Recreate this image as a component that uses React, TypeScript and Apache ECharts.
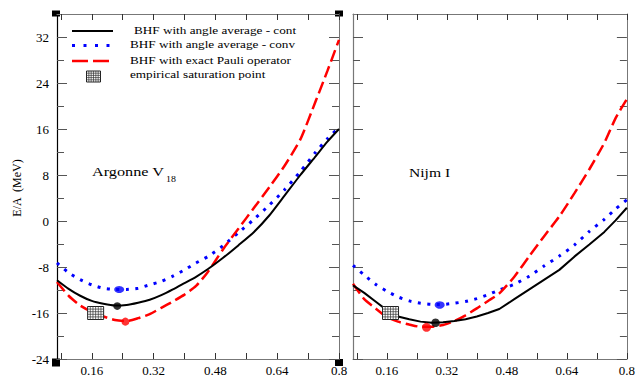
import React, { useEffect, useRef } from "react";
import * as echarts from "echarts";

// ---------- data ----------
const density = [0.07, 0.1, 0.13, 0.16, 0.19, 0.22, 0.25, 0.28, 0.31, 0.34, 0.37, 0.4, 0.43, 0.46, 0.5, 0.54, 0.58, 0.62, 0.66, 0.7, 0.74, 0.77, 0.8];

const argonneCont = [-10.3, -11.8, -13.0, -13.9, -14.4, -14.7, -14.6, -14.2, -13.7, -12.9, -11.9, -10.8, -9.7, -8.4, -6.4, -4.2, -1.9, 1.0, 4.5, 8.0, 11.3, 13.8, 16.0];
const argonneConv = [-7.3, -9.0, -10.2, -11.1, -11.7, -11.9, -11.9, -11.7, -11.1, -10.5, -9.6, -8.5, -7.3, -6.2, -4.3, -2.0, 0.3, 2.8, 5.5, 8.6, 12.0, 14.3, 16.3];
const argonnePauli = [-10.6, -13.0, -14.7, -15.8, -16.6, -17.2, -17.4, -16.9, -16.2, -15.1, -14.0, -12.8, -11.3, -8.9, -4.9, -1.3, 2.3, 5.9, 9.7, 14.2, 20.9, 26.1, 31.5];

const nijmCont = [-11.2, -12.5, -14.0, -15.5, -16.6, -17.1, -17.5, -17.7, -17.6, -17.4, -17.1, -16.6, -16.0, -15.3, -13.6, -11.9, -10.2, -8.5, -6.2, -4.1, -1.9, 0.1, 2.3];
const nijmConv = [-7.7, -9.4, -11.0, -12.2, -13.2, -13.9, -14.3, -14.5, -14.5, -14.3, -14.0, -13.5, -12.8, -12.0, -11.0, -9.6, -7.8, -6.1, -4.2, -1.8, 0.3, 2.1, 3.7];
const nijmPauli = [-10.9, -13.6, -15.2, -16.7, -17.5, -18.0, -18.4, -18.4, -18.1, -17.4, -16.4, -15.2, -13.9, -12.6, -9.7, -6.1, -2.6, 0.8, 4.8, 9.0, 13.6, 17.9, 21.2];

// saturation points of each calculation [density, E/A]
const argonneSatCont = [0.226, -14.8];
const argonneSatConv = [0.231, -11.9];
const argonneSatPauli = [0.247, -17.5];
const nijmSatCont = [0.29, -17.7];
const nijmSatConv = [0.301, -14.6];
const nijmSatPauli = [0.266, -18.5];
const empiricalPoint = [0.17, -16.0];

const xTickValues = [0.08, 0.16, 0.24, 0.32, 0.4, 0.48, 0.56, 0.64, 0.72, 0.8];
const xLabelValues = [0.16, 0.32, 0.48, 0.64, 0.8];
const yMajorValues = [-24, -16, -8, 0, 8, 16, 24, 32];
const yMinorValues = [-20, -12, -4, 4, 12, 20, 28];

const legendNames = [
  "BHF with angle average - cont",
  "BHF with angle average - conv",
  "BHF with exact Pauli operator",
  "empirical saturation point",
];
const panelNames = ["Argonne V", "Nijm I"];
const yAxisTitle = "E/A  (MeV)";

// ---------- styling ----------
const FONT = "serif";
const X_MIN = 0.07;
const X_MAX = 0.8;
const Y_MIN = -24;
const Y_MAX = 36;
const dotStyle = { color: "#0000ff", width: 3, type: [3, 6.5] as number[], cap: "butt" };
const dashStyle = { color: "#ff0000", width: 2.5, type: [12, 5] as number[], cap: "butt" };
const solidStyle = { color: "#000000", width: 2 };

function gridBoxChildren(cx: number, cy: number, w: number, h: number) {
  const x0 = cx - w / 2;
  const y0 = cy - h / 2;
  const children: any[] = [
    { type: "rect", shape: { x: x0, y: y0, width: w, height: h }, style: { fill: "#fff", stroke: "#222", lineWidth: 1 } },
  ];
  for (let i = 1; i < 6; i++) {
    const x = x0 + (w * i) / 6;
    children.push({ type: "line", shape: { x1: x, y1: y0, x2: x, y2: y0 + h }, style: { stroke: "#333", lineWidth: 0.7 } });
  }
  for (let j = 1; j < 5; j++) {
    const y = y0 + (h * j) / 5;
    children.push({ type: "line", shape: { x1: x0, y1: y, x2: x0 + w, y2: y }, style: { stroke: "#333", lineWidth: 0.7 } });
  }
  return children;
}

function makeXAxes(g: number) {
  const base = {
    type: "value",
    gridIndex: g,
    min: X_MIN,
    max: X_MAX,
    splitLine: { show: false },
    axisLine: { show: true, onZero: false, lineStyle: { color: "#777", width: 1 } },
    axisTick: { show: true, inside: true, length: 6, customValues: xTickValues, lineStyle: { color: "#333" } },
  };
  return [
    {
      ...base,
      position: "bottom",
      axisLabel: {
        show: true,
        customValues: xLabelValues,
        margin: 5,
        fontFamily: FONT,
        fontSize: 13,
        color: "#000",
        formatter: (v: number) => String(v),
      },
    },
    { ...base, position: "top", axisLabel: { show: false } },
  ];
}

function makeYAxes(g: number, showLabels: boolean, leftColor: string) {
  const base = {
    type: "value",
    gridIndex: g,
    min: Y_MIN,
    max: Y_MAX,
    splitLine: { show: false },
  };
  return [
    {
      ...base,
      position: "left",
      axisLine: { show: true, onZero: false, lineStyle: { color: leftColor, width: 1.2 } },
      axisTick: { show: true, inside: true, length: 10, customValues: yMajorValues, lineStyle: { color: "#555" } },
      axisLabel: {
        show: showLabels,
        customValues: yMajorValues,
        margin: 8,
        fontFamily: FONT,
        fontSize: 13,
        color: "#000",
      },
    },
    {
      ...base,
      position: "left",
      axisLine: { show: false, onZero: false },
      axisTick: { show: true, inside: true, length: 7, customValues: yMinorValues, lineStyle: { color: "#555" } },
      axisLabel: { show: false },
    },
    {
      ...base,
      position: "right",
      axisLine: { show: true, onZero: false, lineStyle: { color: "#777", width: 1 } },
      axisTick: { show: true, inside: true, length: 10, customValues: yMajorValues, lineStyle: { color: "#555" } },
      axisLabel: { show: false },
    },
    {
      ...base,
      position: "right",
      axisLine: { show: false, onZero: false },
      axisTick: { show: true, inside: true, length: 7, customValues: yMinorValues, lineStyle: { color: "#555" } },
      axisLabel: { show: false },
    },
  ];
}

function lineSeries(name: string, values: number[], g: number, lineStyle: any, z: number) {
  return {
    name,
    type: "line",
    xAxisIndex: g * 2,
    yAxisIndex: g * 4,
    data: density.map((d, i) => [d, values[i]]),
    symbol: "none",
    smooth: 0.2,
    lineStyle,
    z,
  };
}

function dotSeries(point: number[], g: number, color: string, size: number[]) {
  return {
    type: "scatter",
    xAxisIndex: g * 2,
    yAxisIndex: g * 4,
    data: [point],
    symbol: "circle",
    symbolSize: size,
    itemStyle: { color },
    z: 5,
  };
}

function empiricalSeries(g: number) {
  return {
    name: legendNames[3],
    type: "custom",
    xAxisIndex: g * 2,
    yAxisIndex: g * 4,
    data: [empiricalPoint],
    z: 6,
    renderItem: (_params: any, api: any) => {
      const p = api.coord([api.value(0), api.value(1)]);
      return { type: "group", children: gridBoxChildren(p[0], p[1], 16, 13) };
    },
  };
}

export default function App() {
  const ref = useRef<HTMLDivElement>(null);

  useEffect(() => {
    if (!ref.current) return;
    const chart = echarts.init(ref.current, null, { renderer: "svg" });

    const legendText = (text: string, x: number, y: number) => ({
      type: "text",
      x,
      y,
      scaleX: 1.2,
      style: { text, fontFamily: FONT, fontSize: 11, fill: "#000", align: "left", verticalAlign: "middle" },
    });

    const graphic: any[] = [
      // legend
      { type: "line", shape: { x1: 72, y1: 31, x2: 113, y2: 31 }, style: { stroke: "#000", lineWidth: 2 } },
      legendText(legendNames[0], 134, 30),
      { type: "line", shape: { x1: 72, y1: 45.5, x2: 113, y2: 45.5 }, style: { stroke: "#0000ff", lineWidth: 3, lineDash: [3, 8.5] } },
      legendText(legendNames[1], 130, 44.5),
      { type: "line", shape: { x1: 72, y1: 61, x2: 113, y2: 61 }, style: { stroke: "#ff0000", lineWidth: 2.5, lineDash: [16, 5] } },
      legendText(legendNames[2], 130, 60),
      { type: "group", children: gridBoxChildren(93.5, 76.5, 14, 11) },
      legendText(legendNames[3], 130, 74.5),
      // panel labels
      { type: "text", x: 92, y: 172, scaleX: 1.25, style: { text: panelNames[0], fontFamily: FONT, fontSize: 13, fill: "#000", align: "left", verticalAlign: "middle" } },
      { type: "text", x: 166, y: 179, scaleX: 1.1, style: { text: "18", fontFamily: FONT, fontSize: 9, fill: "#000", align: "left", verticalAlign: "middle" } },
      { type: "text", x: 409, y: 172.5, scaleX: 1.2, style: { text: panelNames[1], fontFamily: FONT, fontSize: 13, fill: "#000", align: "left", verticalAlign: "middle" } },
      // y-axis title
      { type: "text", x: 17, y: 188, rotation: Math.PI / 2, style: { text: yAxisTitle, fontFamily: FONT, fontSize: 12, fill: "#000", align: "center", verticalAlign: "middle" } },
      // corner markers of the left frame
      { type: "rect", shape: { x: 52, y: 10.5, width: 8, height: 6 }, style: { fill: "#000" } },
      { type: "rect", shape: { x: 52, y: 358.5, width: 8, height: 8 }, style: { fill: "#000" } },
      { type: "rect", shape: { x: 335, y: 10.5, width: 8, height: 6 }, style: { fill: "#000" } },
      { type: "rect", shape: { x: 335, y: 359, width: 8, height: 7 }, style: { fill: "#000" } },
    ];

    const option: any = {
      animation: false,
      backgroundColor: "#fff",
      textStyle: { fontFamily: FONT },
      grid: [
        { left: 57, top: 14, width: 282, height: 349 },
        { left: 353, top: 14, width: 282, height: 349 },
      ],
      xAxis: [...makeXAxes(0), ...makeXAxes(1)],
      yAxis: [...makeYAxes(0, true, "#000"), ...makeYAxes(1, false, "#777")],
      series: [
        lineSeries(legendNames[1], argonneConv, 0, dotStyle, 2),
        lineSeries(legendNames[2], argonnePauli, 0, dashStyle, 3),
        lineSeries(legendNames[0], argonneCont, 0, solidStyle, 4),
        lineSeries(legendNames[1], nijmConv, 1, dotStyle, 2),
        lineSeries(legendNames[2], nijmPauli, 1, dashStyle, 3),
        { ...lineSeries(legendNames[0], nijmCont, 1, solidStyle, 4), smooth: false },
        dotSeries(argonneSatConv, 0, "#0000ff", [10, 7]),
        dotSeries(argonneSatCont, 0, "#000000", [8, 7.5]),
        dotSeries(argonneSatPauli, 0, "#ff0000", [8, 8]),
        dotSeries(nijmSatConv, 1, "#0000ff", [10, 7.5]),
        dotSeries(nijmSatCont, 1, "#000000", [8.5, 8.5]),
        dotSeries(nijmSatPauli, 1, "#ff0000", [9, 9]),
        empiricalSeries(0),
        empiricalSeries(1),
      ],
      graphic,
    };

    chart.setOption(option);
    return () => chart.dispose();
  }, []);

  return (
    <div
      ref={ref}
      style={{ position: "absolute", left: 0, top: 0, width: 638, height: 377, background: "#fff" }}
    />
  );
}
